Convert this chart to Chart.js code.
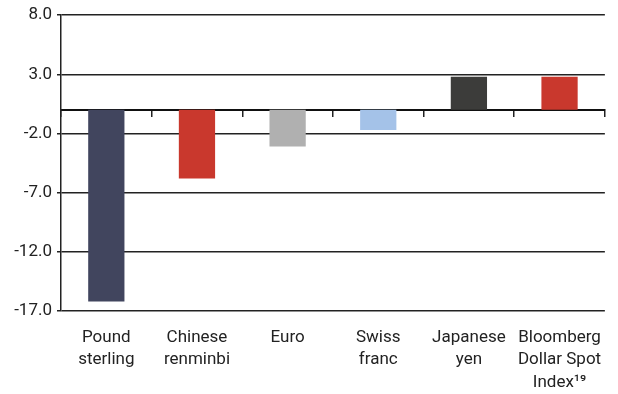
<!DOCTYPE html>
<html>
<head>
<meta charset="utf-8">
<script src="https://cdn.jsdelivr.net/npm/chart.js@4.4.1/dist/chart.umd.min.js"></script>
<style>
  html, body { margin: 0; padding: 0; background: #fff; }
  #wrap { width: 618px; height: 394px; }
</style>
</head>
<body>
<div id="wrap"><canvas id="c"></canvas></div>
<script>
const categories = [
  ['Pound', 'sterling'],
  ['Chinese', 'renminbi'],
  ['Euro'],
  ['Swiss', 'franc'],
  ['Japanese', 'yen'],
  ['Bloomberg', 'Dollar Spot', 'Index\u00B9\u2079'],
];
const changePct = [-16.2, -5.8, -3.1, -1.7, 2.8, 2.8];
const barColors = ['#41455e', '#c9382d', '#b0b0b0', '#a4c2e8', '#3c3c3a', '#c9382d'];
const yTicks = [-17, -12, -7, -2, 3, 8];

const FONT = 'Roboto, "Noto Sans", sans-serif';
const INK = '#222';

new Chart(document.getElementById('c'), {
  type: 'bar',
  data: {
    labels: categories,
    datasets: [{
      data: changePct,
      backgroundColor: barColors,
      borderWidth: 0,
      barPercentage: 0.8,
      categoryPercentage: 0.5,
    }],
  },
  options: {
    responsive: true,
    maintainAspectRatio: false,
    animation: false,
    layout: { padding: { top: 8, right: 10, bottom: 0, left: 0 } },
    plugins: { legend: { display: false }, tooltip: { enabled: false } },
    scales: {
      x: {
        type: 'category',
        grid: { display: false, drawTicks: false },
        border: { display: false },
        afterFit: s => { s.height = 83; },
        ticks: {
          color: INK,
          padding: 16,
          maxRotation: 0,
          autoSkip: false,
          font: { family: FONT, size: 17, lineHeight: 1.3 },
        },
      },
      // zero line with tick marks at category boundaries
      x0: {
        type: 'category',
        position: { y: 0 },
        afterFit: s => { s.height = 0; },
        grid: { drawOnChartArea: false, offset: true, tickLength: 6, color: INK, lineWidth: 1.5 },
        border: { display: true, color: '#111', width: 2 },
        ticks: { display: false },
      },
      y: {
        min: yTicks[0],
        max: yTicks[yTicks.length - 1],
        afterBuildTicks: s => { s.ticks = yTicks.map(v => ({ value: v })); },
        afterFit: s => { s.width = 61; },
        grid: { color: INK, lineWidth: 1.5, tickLength: 4 },
        border: { display: true, color: INK, width: 1.5 },
        ticks: {
          color: INK,
          padding: 5,
          font: { family: FONT, size: 17 },
          callback: v => Number(v).toFixed(1),
        },
      },
    },
  },
});
</script>
</body>
</html>
